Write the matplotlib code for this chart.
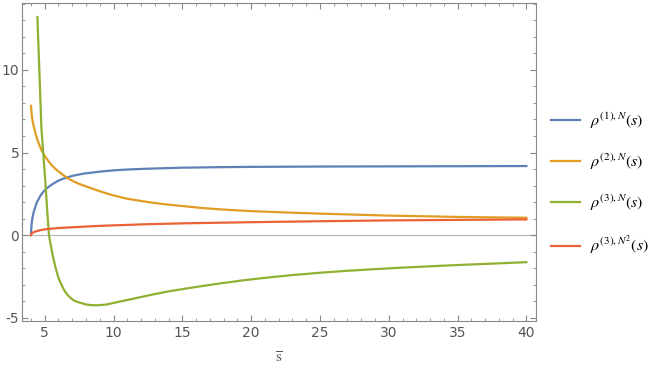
import matplotlib
matplotlib.use('Agg')
import matplotlib.pyplot as plt
from matplotlib.ticker import MultipleLocator

plt.rcParams['mathtext.fontset'] = 'stix'
plt.rcParams['axes.unicode_minus'] = False

# rho^(1),N
s_blue = [4.0, 4.01, 4.03, 4.05, 4.08, 4.12, 4.2, 4.3, 4.4, 4.55, 4.7, 4.85, 5.0, 5.25, 5.5, 5.75, 6.0, 6.5,
          7, 7.5, 8, 9, 10, 11, 12.5, 15, 17.5, 20, 25, 30, 35, 40]
rho1 = [0, 0.25, 0.45, 0.65, 0.9, 1.1, 1.4, 1.67, 1.92, 2.17, 2.4, 2.57, 2.72, 2.9, 3.05, 3.18, 3.30, 3.46,
        3.58, 3.67, 3.74, 3.84, 3.92, 3.97, 4.02, 4.08, 4.11, 4.13, 4.15, 4.16, 4.17, 4.18]

# rho^(2),N
s_orange = [4.0, 4.05, 4.1, 4.18, 4.27, 4.38, 4.5, 4.63, 4.76, 5.0, 5.25, 5.5, 5.75, 6.0, 6.35, 6.7, 7.1, 7.5,
            8.0, 8.4, 9.2, 10, 11, 12.5, 13.7, 15, 16.3, 17.7, 20, 22.5, 25, 27.5, 30, 35, 40]
rho2 = [7.82, 7.35, 7.0, 6.65, 6.36, 6.0, 5.7, 5.42, 5.15, 4.8, 4.5, 4.24, 4.03, 3.85, 3.63, 3.43, 3.25, 3.1,
        2.95, 2.83, 2.6, 2.4, 2.2, 2.0, 1.87, 1.76, 1.65, 1.56, 1.45, 1.37, 1.30, 1.24, 1.18, 1.10, 1.05]

# rho^(3),N
s_green = [4.47, 4.6, 4.76, 4.9, 5.05, 5.18, 5.31, 5.45, 5.6, 5.8, 5.97, 6.1, 6.2, 6.3, 6.45, 6.6, 6.8, 7.0,
           7.18, 7.5, 7.8, 8.0, 8.39, 8.75, 9.0, 9.5, 10.03, 11, 12, 13, 14.1, 16, 17.7, 19.5, 21.3, 23, 25,
           27, 28.6, 30.5, 32.2, 34, 35.9, 38, 40]
rho3 = [13.2, 10.2, 6.5, 4.9, 3.2, 1.5, 0.0, -0.65, -1.31, -2.0, -2.52, -2.78, -2.97, -3.15, -3.38, -3.56,
        -3.74, -3.88, -3.98, -4.08, -4.15, -4.2, -4.24, -4.25, -4.24, -4.2, -4.1, -3.93, -3.75, -3.57, -3.39,
        -3.14, -2.93, -2.73, -2.56, -2.42, -2.28, -2.16, -2.08, -1.99, -1.92, -1.85, -1.78, -1.71, -1.64]

# rho^(3),N^2
s_red = [4.0, 4.02, 4.05, 4.1, 4.15, 4.27, 4.5, 4.75, 5, 5.5, 6, 7.18, 8.5, 10, 12.5, 15, 17.7, 20, 25, 30, 35, 40]
rho3n2 = [0, 0.05, 0.09, 0.13, 0.16, 0.2, 0.26, 0.31, 0.35, 0.39, 0.43, 0.48, 0.54, 0.59, 0.66, 0.71, 0.75, 0.78,
          0.84, 0.89, 0.92, 0.95]

labels = [r'$\rho^{(1),N}(s)$', r'$\rho^{(2),N}(s)$', r'$\rho^{(3),N}(s)$', r'$\rho^{(3),N^2}(s)$']
colors = ['#5E81B5', '#E19C24', '#8FB032', '#EB6235']

fig = plt.figure(figsize=(6.64, 3.74), dpi=100)
ax = fig.add_axes([22/664, 1-321/374, (536-22)/664, (321-3)/374])

ax.axhline(0, color='#b8b8b8', lw=0.9, zorder=1)
ax.plot(s_blue, rho1, color=colors[0], lw=1.6, label=labels[0])
ax.plot(s_orange, rho2, color=colors[1], lw=1.6, label=labels[1])
ax.plot(s_green, rho3, color=colors[2], lw=1.6, label=labels[2])
ax.plot(s_red, rho3n2, color=colors[3], lw=1.6, label=labels[3])

ax.set_xlim(3.35, 40.7)
ax.set_ylim(-5.2, 14.05)

ax.xaxis.set_major_locator(MultipleLocator(5))
ax.xaxis.set_minor_locator(MultipleLocator(1))
ax.yaxis.set_major_locator(MultipleLocator(5))
ax.yaxis.set_minor_locator(MultipleLocator(1))
ax.tick_params(which='both', direction='in', top=True, right=True, color='#888888',
               labelcolor='#555555', labelsize=10)
ax.tick_params(which='major', length=4.2, width=0.8)
ax.tick_params(which='minor', length=2.2, width=0.6)
ax.tick_params(axis='y', pad=2)
for sp in ax.spines.values():
    sp.set_color('#888888')
    sp.set_linewidth(0.8)

ax.set_xlabel(r'$\overline{\mathrm{s}}$', color='#555555', fontsize=11, labelpad=8)

leg = fig.legend(loc='center left', bbox_to_anchor=(551/664, 1-184/374), frameon=False, fontsize=11.5,
                 handlelength=1.8, labelspacing=1.3, handletextpad=0.65, borderpad=0, borderaxespad=0)

fig.savefig('out.png', dpi=100)
